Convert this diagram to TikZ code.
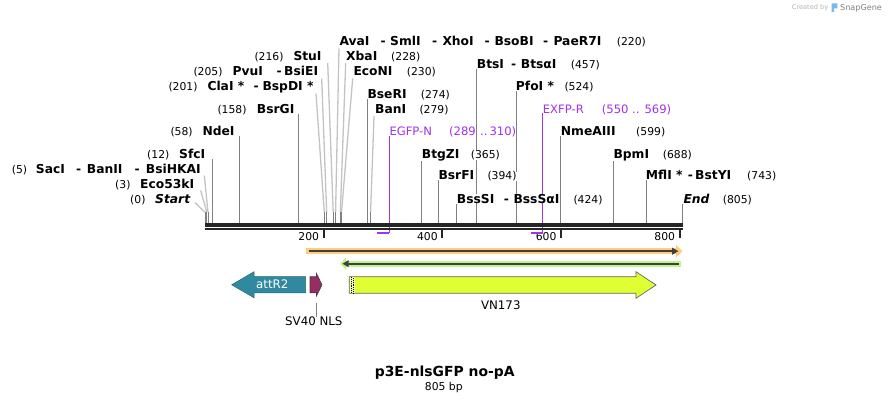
\documentclass[tikz,border=0pt]{standalone}
\usepackage{fontspec}
\setmainfont{DejaVu Sans}
\usetikzlibrary{backgrounds}
\definecolor{prim}{RGB}{160,50,240}
\definecolor{attc}{RGB}{49,137,160}
\definecolor{nlsc}{RGB}{150,45,100}
\definecolor{vnc}{RGB}{224,255,51}
\definecolor{vnstripe}{RGB}{240,255,150}
\definecolor{orb}{RGB}{255,205,125}
\definecolor{grb}{RGB}{189,245,138}
\definecolor{darkl}{RGB}{64,64,64}
\definecolor{sline}{RGB}{128,128,128}
\definecolor{cline}{RGB}{195,195,195}
\definecolor{sgblue}{RGB}{120,185,235}
\tikzset{
  nm/.style={font=\fontsize{12.3}{14}\selectfont\bfseries, inner sep=0pt, fill=white, anchor=base west},
  nmi/.style={nm, font=\fontsize{12.3}{14}\selectfont\bfseries\itshape},
  num/.style={font=\fontsize{10.8}{13}\selectfont, inner sep=0pt, fill=white, anchor=base west},
  prm/.style={font=\fontsize{11.6}{14}\selectfont, text=prim, inner sep=0pt, fill=white, anchor=base west},
  tick/.style={font=\fontsize{10.8}{13}\selectfont, inner sep=0pt, anchor=base east},
  ftxt/.style={font=\fontsize{11.8}{14}\selectfont, inner sep=0pt, anchor=base},
  sl/.style={draw=sline, line width=0.9pt},
  cl/.style={draw=cline, line width=1.3pt},
  pl/.style={draw=prim, line width=1.3pt},
}
\begin{document}
\begin{tikzpicture}[x=1pt,y=-1pt]
\useasboundingbox (0,0) rectangle (889,403);

% ---------- watermark ----------
\node[font=\fontsize{6.6}{8}\selectfont, text=black!30, anchor=base west, inner sep=0] (cby) at (791.7,10) {Created by};
\fill[sgblue] (831.7,3.5) -- (837.3,3.5) -- (837.3,8.5) -- (834,8.5) -- (834,12) -- (831.7,12) -- cycle;
\node[font=\fontsize{8.1}{10}\selectfont, text=black!50, anchor=base west, inner sep=0] (sg) at (840,10.6) {SnapGene};

% ---------- axis ----------
\coordinate (x0) at (205,225);
\coordinate (x1) at (683.3,225);
\draw[black!85, line width=3.3pt] (x0) -- (x1);
\draw[black!85, line width=1.3pt] (205,229) -- (683.3,229);
\foreach \bp/\lab in {200/200,400/400,600/600,800/800}{
  \pgfmathsetmacro{\tx}{205+0.5935*\bp}
  \draw[black!85, line width=2pt] (\tx,228.5) -- (\tx,238.5);
  \node[tick] (t\lab) at (\tx-4.5,240.5) {\lab};
}

% ---------- left-side labels ----------
\node[num] (n216) at (254.3,61) {(216)};
\node[nm] (StuI) at (293.3,61) {StuI};
\node[num] (n205) at (193.3,76) {(205)};
\node[nm] (PvuI) at (232.3,76) {PvuI};
\node[nm] (d205) at (276.5,76) {-};
\node[nm] (BsiEI) at (284,76) {BsiEI};
\node[num] (n201) at (168.3,91) {(201)};
\node[nm] (ClaI) at (207.3,91) {ClaI *};
\node[nm] (d201) at (253.5,91) {-};
\node[nm] (BspDI) at (262.3,91) {BspDI *};
\node[num] (n158) at (217.3,113.3) {(158)};
\node[nm] (BsrGI) at (256.7,113.3) {BsrGI};
\node[num] (n58) at (170.3,136) {(58)};
\node[nm] (NdeI) at (202.3,136) {NdeI};
\node[num] (n12) at (147,159) {(12)};
\node[nm] (SfcI) at (179,159) {SfcI};
\node[num] (n5) at (11.7,173.3) {(5)};
\node[nm] (SacI) at (35.7,173.3) {SacI};
\node[nm] (d5a) at (76,173.3) {-};
\node[nm] (BanII) at (86.7,173.3) {BanII};
\node[nm] (d5b) at (134.5,173.3) {-};
\node[nm] (BsiHKAI) at (145.7,173.3) {BsiHKAI};
\node[num] (n3) at (115,188.7) {(3)};
\node[nm] (Eco53kI) at (140,188.7) {Eco53kI};
\node[num] (n0) at (130,203.7) {(0)};
\node[nmi] (Start) at (155,203.7) {Start};

% ---------- right-side labels ----------
\node[nm] (AvaI) at (339.3,46) {AvaI};
\node[nm] (d220a) at (380.3,46) {-};
\node[nm] (SmlI) at (390,46) {SmlI};
\node[nm] (d220b) at (432,46) {-};
\node[nm] (XhoI) at (442.3,46) {XhoI};
\node[nm] (d220c) at (484.3,46) {-};
\node[nm] (BsoBI) at (494.3,46) {BsoBI};
\node[nm] (d220d) at (543,46) {-};
\node[nm] (PaeR7I) at (553.3,46) {PaeR7I};
\node[num] (n220) at (616.7,46) {(220)};
\node[nm] (XbaI) at (346,60.5) {XbaI};
\node[num] (n228) at (391,60.5) {(228)};
\node[nm] (BtsI) at (476.7,68.3) {BtsI};
\node[nm] (d457) at (511,68.3) {-};
\node[nm] (BtsaI) at (520.7,68.3) {BtsαI};
\node[num] (n457) at (570.7,68.3) {(457)};
\node[nm] (EcoNI) at (353.3,75.7) {EcoNI};
\node[num] (n230) at (406.7,75.7) {(230)};
\node[nm] (PfoI) at (515.7,91) {PfoI *};
\node[num] (n524) at (564.3,91) {(524)};
\node[nm] (BseRI) at (367.3,98.3) {BseRI};
\node[num] (n274) at (420.7,98.3) {(274)};
\node[nm] (BanI) at (375,113.3) {BanI};
\node[num] (n279) at (419.3,113.3) {(279)};
\node[prm] (EXFPR) at (542.7,113.3) {EXFP-R};
\node[prm] (nEXFPR) at (601.7,113.3) {(550 .. 569)};
\node[prm] (EGFPN) at (389.3,135.7) {EGFP-N};
\node[prm] (nEGFPNa) at (449,135.7) {(289};
\node[prm] (nEGFPNb) at (480,135.7) {..};
\node[prm] (nEGFPNc) at (489.3,135.7) {310)};
\node[nm] (NmeAIII) at (560.7,135.7) {NmeAIII};
\node[num] (n599) at (636,135.7) {(599)};
\node[nm] (BtgZI) at (421.7,158.3) {BtgZI};
\node[num] (n365) at (470.7,158.3) {(365)};
\node[nm] (BpmI) at (613.3,158.3) {BpmI};
\node[num] (n688) at (662.7,158.3) {(688)};
\node[nm] (BsrFI) at (438.3,180) {BsrFI};
\node[num] (n394) at (487.3,180) {(394)};
\node[nm] (MflI) at (645.7,180) {MflI *};
\node[nm] (d743) at (687.7,180) {-};
\node[nm] (BstYI) at (695,180) {BstYI};
\node[num] (n743) at (747,180) {(743)};
\node[nm] (BssSI) at (456.7,203.3) {BssSI};
\node[nm] (d424) at (503.7,203.3) {-};
\node[nm] (BssSaI) at (513.3,203.3) {BssSαI};
\node[num] (n424) at (573.3,203.3) {(424)};
\node[nmi] (End) at (683.3,203.3) {End};
\node[num] (n805) at (722.7,203.3) {(805)};

% ---------- connectors (behind the labels) ----------
\begin{pgfonlayer}{background}
  \foreach \nm/\bp in {Start/0,Eco/3,Sac/5,Sfc/12,Nde/58,BsrG/158,Cla/201,Pvu/205,Stu/216,Ava/220,Xba/228,EcoN/230,BseR/274,Ban/279,BtgZ/365,BsrF/394,BssS/424,Bts/457,Pfo/524,Nme/599,Bpm/688,Mfl/743,End/805}{
    \pgfmathsetmacro{\sx}{205+0.5935*\bp}
    \coordinate (a\nm) at (\sx,224);
    \coordinate (k\nm) at (\sx,212.2);
  }
  \draw[sl] (aNde |- NdeI.south) -- (aNde);
  \draw[sl] (aSfc |- SfcI.south) -- (aSfc);
  \draw[sl] (aBsrG |- BsrGI.south) -- (aBsrG);
  \draw[sl] (aBseR |- BseRI.south) -- (aBseR);
  \draw[sl] (aBtgZ |- BtgZI.south) -- (aBtgZ);
  \draw[sl] (aBsrF |- BsrFI.south) -- (aBsrF);
  \draw[sl] (aBssS |- BssSI.south) -- (aBssS);
  \draw[sl] (aBts |- BtsI.south) -- (aBts);
  \draw[sl] (aPfo |- PfoI.south) -- (aPfo);
  \draw[sl] (aNme |- NmeAIII.south) -- (aNme);
  \draw[sl] (aBpm |- BpmI.south) -- (aBpm);
  \draw[sl] (aMfl |- MflI.south) -- (aMfl);
  \draw[sl] (aEnd |- End.south) -- (aEnd);
  \coordinate (tStart) at (195,202.7);
  \coordinate (tEco) at (200.7,190.5);
  \coordinate (tSac) at (204.3,175.5);
  \coordinate (tCla) at (316,93.5);
  \coordinate (tPvu) at (321.7,78.5);
  \coordinate (tStu) at (327.7,63);
  \coordinate (tAva) at (339,48.5);
  \coordinate (tXba) at (345.7,63);
  \coordinate (tEcoN) at (352.7,78.3);
  \coordinate (tBan) at (374,116);
  \foreach \nm in {Start,Eco,Sac,Cla,Pvu,Stu,Ava,Xba,EcoN,Ban}{
    \draw[cl] (t\nm) -- (k\nm);
    \draw[sl] (k\nm) -- (a\nm);
  }
  \coordinate (pN1) at (376.7,233.3);
  \coordinate (pN2) at (389.3,233.3);
  \coordinate (pR1) at (531,233.3);
  \coordinate (pR2) at (542.7,233.3);
  \draw[pl] (pN2 |- EGFPN.south) -- (pN2);
  \draw[pl] (pR2 |- EXFPR.south) -- (pR2);
\end{pgfonlayer}
\draw[prim, line width=2pt] (pN1) -- (pN2);
\draw[prim, line width=2pt] (pR1) -- (pR2);

% ---------- orange and green bars ----------
\fill[orb] (306,248.3) rectangle (676,254.2);
\fill[orb] (676,245) -- (682.5,251.2) -- (676,257.4) -- cycle;
\draw[darkl, line width=1.8pt] (308.7,251.2) -- (673,251.2);
\fill[darkl] (672,247.6) -- (678.3,251.2) -- (672,254.8) -- cycle;

\fill[grb] (346,260.8) rectangle (681,266.6);
\fill[grb] (346,257.6) -- (340.2,263.7) -- (346,269.8) -- cycle;
\draw[darkl, line width=1.8pt] (347,263.7) -- (679.3,263.7);
\fill[darkl] (348.5,260.2) -- (342.5,263.7) -- (348.5,267.2) -- cycle;

% ---------- features ----------
\filldraw[fill=attc, draw=attc!75!black, line width=0.5pt]
  (305.5,276.7) -- (254,276.7) -- (254,271.7) -- (231.7,284.8) -- (254,297.8) -- (254,292.8) -- (305.5,292.8) -- cycle;
\node[ftxt, text=white, anchor=base west] (attR2) at (256,288.3) {attR2};

\filldraw[fill=nlsc, draw=black!75, line width=0.6pt]
  (310,276.7) -- (316.5,276.7) -- (316.5,273.5) -- (322,284.8) -- (316.5,296) -- (316.5,292.8) -- (310,292.8) -- cycle;
\coordinate (nlsTop) at (316.5,303);
\node[ftxt] (SV40) at (313.8,325.7) {SV40 NLS};
\draw[sl] (nlsTop) -- (nlsTop |- SV40.north);

\filldraw[fill=vnc, draw=black!60, line width=0.7pt]
  (349.3,276.7) -- (636,276.7) -- (636,271.7) -- (656,285) -- (636,298.3) -- (636,293.3) -- (349.3,293.3) -- cycle;
\fill[vnstripe] (349.7,277.1) rectangle (354.8,292.9);
\draw[black, line width=0.8pt, dash pattern=on 0.9pt off 0.9pt] (351.2,277.4) -- (351.2,292.8);
\draw[black, line width=0.8pt, dash pattern=on 0.9pt off 0.9pt] (353.4,278.3) -- (353.4,292.8);
\node[ftxt] (VN173) at (500.8,309.3) {VN173};

% ---------- title ----------
\node[font=\fontsize{13.9}{16}\selectfont\bfseries, inner sep=0, anchor=base] (title) at (444.7,376.7) {p3E-nlsGFP no-pA};
\node[font=\fontsize{10.8}{13}\selectfont, inner sep=0, anchor=base] (size) at (443.8,390) {805 bp};
\end{tikzpicture}
\end{document}
